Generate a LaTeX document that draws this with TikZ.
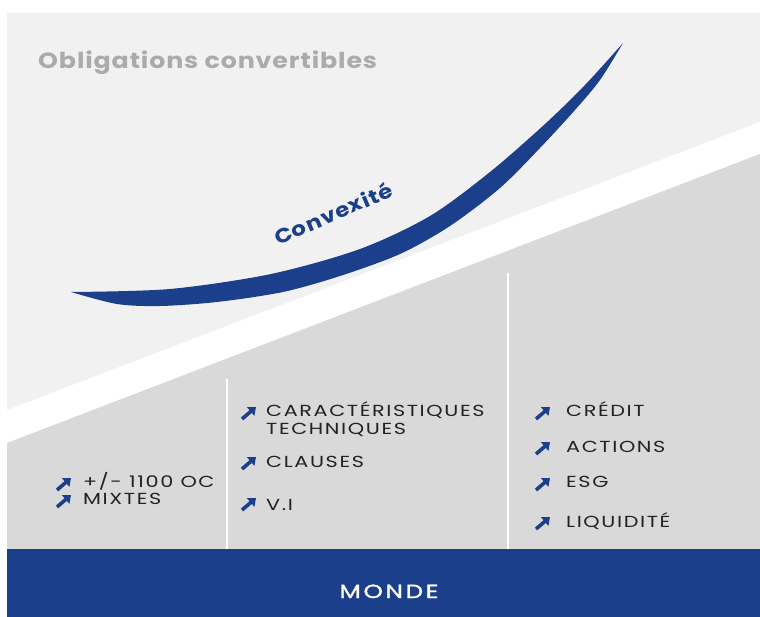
\documentclass[tikz,border=0pt]{standalone}
\usepackage{fontspec}
\setmainfont{Poppins}
\newfontfamily\itemfont[FakeStretch=1.3, LetterSpace=10]{Poppins}
\newfontfamily\titlefont[FakeStretch=1.15, LetterSpace=4]{Poppins}
\newfontfamily\bandfont[FakeStretch=1.3, LetterSpace=14, FakeBold=1.6]{Poppins}
\usetikzlibrary{arrows.meta}

\definecolor{Navy}{HTML}{1B3F8B}
\definecolor{PaleGrey}{HTML}{F1F1F1}
\definecolor{MidGrey}{HTML}{D9D9D9}
\definecolor{TitleGrey}{HTML}{ABABAB}
\definecolor{Ink}{HTML}{222222}

\tikzset{
  item/.style={anchor=base west, inner sep=0pt, text=Ink,
    font=\itemfont\fontsize{16}{18}\selectfont},
  upar/.pic={\draw[Navy, line width=3.6pt, -{Triangle[length=7pt,width=11pt]}]
    (-7,6) -- (7,-6);}
}

\begin{document}
\begin{tikzpicture}[x=1pt,y=-1pt]
\useasboundingbox (0,0) rectangle (760,617);
%\draw[help lines,step=50] (0,0) grid (760,617);

%% Fond
\fill[PaleGrey] (7,13) rectangle (760,549);
\fill[white] (7,410) -- (760,122) -- (760,154) -- (7,443) -- cycle;
\fill[MidGrey] (7,443) -- (760,154) -- (760,549) -- (7,549) -- cycle;
\draw[white, line width=2pt] (227,379) -- (227,549);
\draw[white, line width=2pt] (508,273) -- (508,549);

%% Titre
\node[anchor=base west, inner sep=0pt, text=TitleGrey,
  font=\titlefont\bfseries\fontsize{22}{26}\selectfont] (titre) at (38,69) {Obligations convertibles};

%% Courbe de convexite
\fill[Navy] plot[smooth] coordinates {(71,292) (170,289) (271,274) (360,249)
    (430,216) (490,172) (545,124) (585,85) (623,43)}
  -- plot[smooth] coordinates {(623,43) (600,80) (575,110) (540,148) (500,188)
    (450,226) (400,254) (340,276) (283,292) (217,302) (160,306) (117,304) (71,292)}
  -- cycle;
\node[rotate=23, text=Navy, font=\titlefont\bfseries\fontsize{20}{24}\selectfont] (convex) at (333,213) {Convexité};

%% Colonne 1
\node[item] (oc) at (83,487) {+/- 1100 OC};
\node[item] (mixtes) at (83,504) {MIXTES};
\pic at ([xshift=-19pt,yshift=3pt]oc.base west) {upar};
\pic at ([xshift=-19pt,yshift=3pt]mixtes.base west) {upar};

%% Colonne 2
\node[item] (carac) at (266,416) {CARACTÉRISTIQUES};
\node[item] (techn) at (266,434) {TECHNIQUES};
\node[item] (clauses) at (266,467) {CLAUSES};
\node[item] (vi) at (266,510) {V.I};
\pic at ([xshift=-17pt,yshift=3pt]carac.base west) {upar};
\pic at ([xshift=-17pt,yshift=4pt]clauses.base west) {upar};
\pic at ([xshift=-17pt,yshift=6pt]vi.base west) {upar};

%% Colonne 3
\node[item] (credit) at (566,416) {CRÉDIT};
\node[item] (actions) at (566,452) {ACTIONS};
\node[item] (esg) at (566,487) {ESG};
\node[item] (liquid) at (566,527) {LIQUIDITÉ};
\pic at ([xshift=-23pt,yshift=3pt]credit.base west) {upar};
\pic at ([xshift=-23pt,yshift=4pt]actions.base west) {upar};
\pic at ([xshift=-23pt,yshift=3pt]esg.base west) {upar};
\pic at ([xshift=-23pt,yshift=4pt]liquid.base west) {upar};

%% Bandeau
\fill[Navy] (7,549) rectangle (760,617);
\node[anchor=base, inner sep=0pt, text=white,
  font=\bandfont\fontsize{19}{22}\selectfont] (monde) at (389,598) {MONDE};
\end{tikzpicture}
\end{document}
